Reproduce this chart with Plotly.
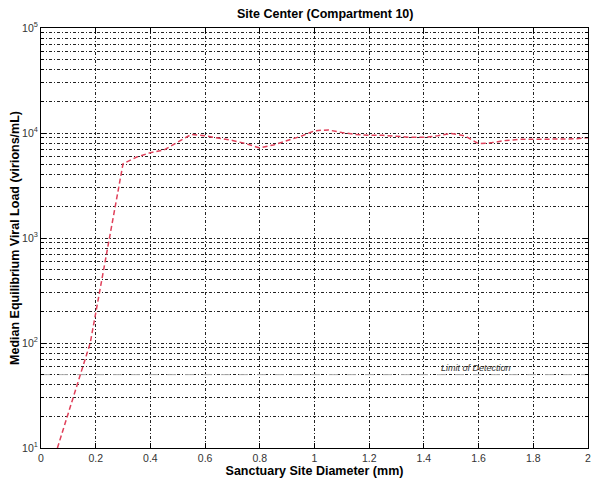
import plotly.graph_objects as go

# sanctuary site diameter (mm) and median equilibrium viral load (virions/mL)
diameter = [0.06, 0.18, 0.30, 0.35, 0.40, 0.45, 0.50, 0.55, 0.60, 0.65, 0.70,
            0.75, 0.80, 0.85, 0.90, 0.95, 1.00, 1.05, 1.10, 1.15, 1.20, 1.25,
            1.30, 1.35, 1.40, 1.45, 1.50, 1.55, 1.60, 1.65, 1.70, 1.75, 1.80,
            1.85, 1.90, 1.95, 2.00]
viral_load = [10, 100, 5100, 5900, 6500, 6900, 8200, 9700, 9400, 8900, 8500,
              7900, 7200, 7700, 8500, 9300, 10500, 10700, 10100, 9700, 9500, 9500,
              9300, 9100, 9100, 9400, 9900, 9400, 7900, 8100, 8500, 8700, 8700,
              8700, 8700, 8800, 9000]

detection_limit = 50
detection_x = [0, 2]

y_tickvals = [10, 100, 1000, 10000, 100000]
y_ticktext = ["10<sup>1</sup>", "10<sup>2</sup>", "10<sup>3</sup>", "10<sup>4</sup>", "10<sup>5</sup>"]
x_tickvals = [0, 0.2, 0.4, 0.6, 0.8, 1, 1.2, 1.4, 1.6, 1.8, 2]
x_ticktext = ["0", "0.2", "0.4", "0.6", "0.8", "1", "1.2", "1.4", "1.6", "1.8", "2"]

fig = go.Figure()

fig.add_trace(go.Scatter(
    x=detection_x, y=[detection_limit] * len(detection_x),
    mode='lines', line=dict(color='#b0b0b0', width=1, dash='dash'),
    showlegend=False, hoverinfo='skip'
))

fig.add_trace(go.Scatter(
    x=diameter, y=viral_load,
    mode='lines', line=dict(color='#e0405a', width=1.5, dash='5px,3px'),
    showlegend=False
))

fig.add_annotation(
    x=1.59, y=1.76, xref='x', yref='y',
    text='<i>Limit of Detection</i>', showarrow=False,
    font=dict(size=9, color='#333333', family='Liberation Sans')
)

grid_dash = '3px,2px,1px,2px'

# page body adds an 8px offset, so the figure is 8px smaller than the window
fig.update_layout(
    width=593, height=476,
    margin=dict(l=33, r=13, t=20, b=36),
    paper_bgcolor='white', plot_bgcolor='white',
    font=dict(family='Liberation Sans, Arial, sans-serif', color='black', size=11),
    title=dict(text='<b>Site Center (Compartment 10)</b>', x=0.535, xanchor='center',
               y=0.998, yanchor='top', font=dict(size=12.5)),
    xaxis=dict(
        range=[0, 2], tickvals=x_tickvals, ticktext=x_ticktext,
        ticks='inside', ticklen=5, tickcolor='black',
        showline=True, linecolor='black', linewidth=1, mirror='ticks',
        zeroline=False, showgrid=True, automargin=False,
        gridcolor='#222222', griddash=grid_dash, gridwidth=1,
        title=dict(text='<b>Sanctuary Site Diameter (mm)</b>', standoff=0,
                   font=dict(size=12.5)),
        tickfont=dict(size=10.5, color='#333333'),
    ),
    yaxis=dict(
        type='log', range=[1, 5], tickvals=y_tickvals, ticktext=y_ticktext,
        ticks='inside', ticklen=5, tickcolor='black',
        showline=True, linecolor='black', linewidth=1, mirror='ticks',
        zeroline=False, showgrid=True, automargin=False,
        gridcolor='#222222', griddash=grid_dash, gridwidth=1,
        minor=dict(dtick='D1', showgrid=True, ticks='inside', ticklen=3,
                   tickcolor='black', gridcolor='#222222', griddash=grid_dash, gridwidth=1),
        title=dict(text='<b>Median Equilibrium Viral Load (virions/mL)</b>', standoff=2,
                   font=dict(size=12.5)),
        tickfont=dict(size=10.5, color='#333333'),
    ),
)

fig.write_html("out.html")
